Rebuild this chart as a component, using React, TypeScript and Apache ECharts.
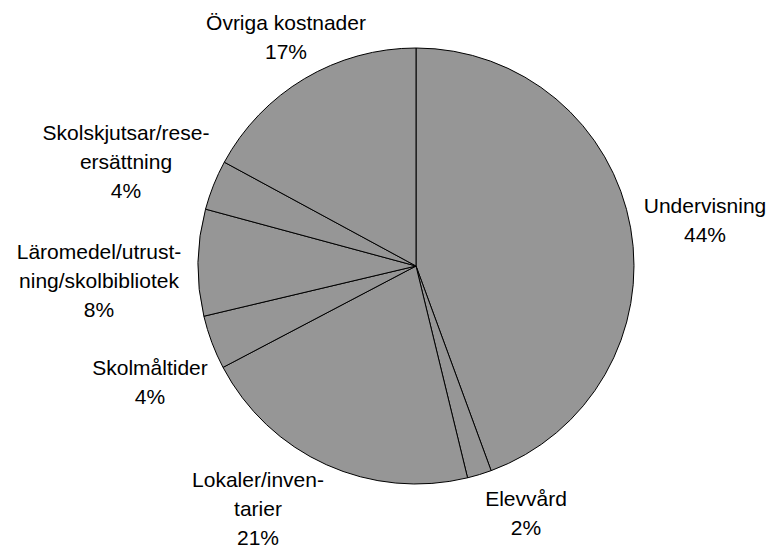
import React, { useEffect, useRef } from "react";
import * as echarts from "echarts";

const categories = [
  "Undervisning",
  "Elevvård",
  "Lokaler/inven-\ntarier",
  "Skolmåltider",
  "Läromedel/utrust-\nning/skolbibliotek",
  "Skolskjutsar/rese-\nersättning",
  "Övriga kostnader",
];
const shares = [44.4, 1.8, 21.1, 4.0, 7.9, 3.7, 17.1];

// label anchor positions (block centres) in px
const labelX = [705, 526, 258, 150, 99, 126, 286];
const labelY = [220, 513, 508, 382, 280, 161, 37];

export default function App() {
  const ref = useRef<HTMLDivElement>(null);
  useEffect(() => {
    document.body.style.margin = "0";
    const chart = echarts.init(ref.current!, null, { renderer: "svg" });
    chart.setOption({
      animation: false,
      backgroundColor: "#ffffff",
      series: [
        {
          type: "pie",
          center: [416, 266],
          radius: [0, 218],
          startAngle: 90,
          clockwise: true,
          avoidLabelOverlap: false,
          itemStyle: { color: "#969696", borderColor: "#000000", borderWidth: 1 },
          emphasis: { disabled: true },
          label: {
            show: true,
            position: "outside",
            color: "#000000",
            fontFamily: "Liberation Sans, Arial, sans-serif",
            fontSize: 21,
            lineHeight: 29,
            align: "center",
            formatter: (p: any) => `${p.name}\n${Math.round(p.value)}%`,
          },
          labelLine: { show: false },
          labelLayout: (p: any) => ({
            x: labelX[p.dataIndex],
            y: labelY[p.dataIndex],
            align: "center",
            verticalAlign: "middle",
          }),
          data: categories.map((c, i) => ({ name: c, value: shares[i] })),
        },
      ],
    });
    return () => chart.dispose();
  }, []);
  return <div ref={ref} style={{ width: 770, height: 549 }} />;
}
